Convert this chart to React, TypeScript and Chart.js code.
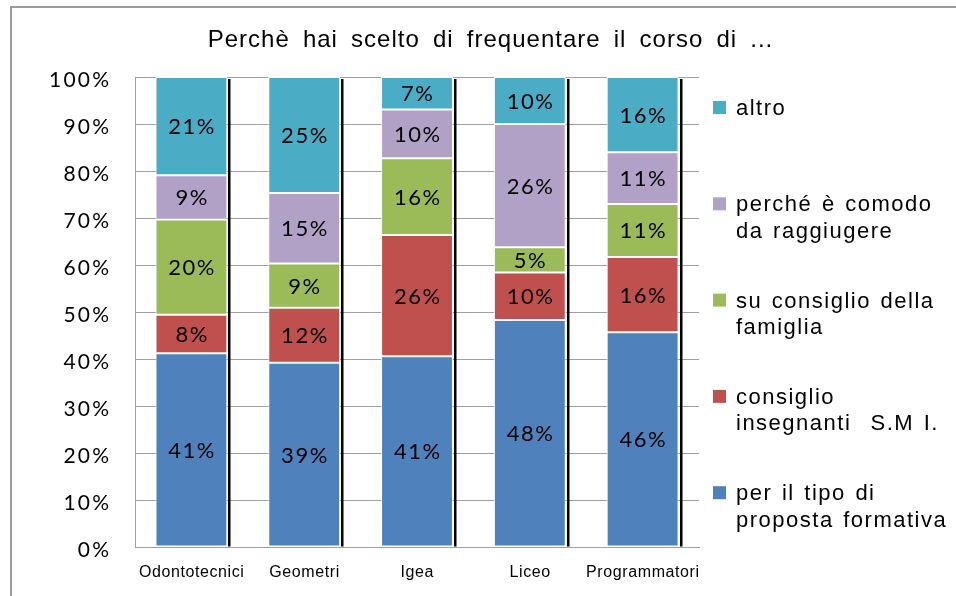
import React, { useEffect, useRef } from "react";
import { Chart, registerables } from "chart.js";

Chart.register(...registerables);

const titleText = "Perchè hai scelto di frequentare il corso di ...";
const categories = ["Odontotecnici", "Geometri", "Igea", "Liceo", "Programmatori"];
const seriesNames = [
  "per il tipo di\nproposta formativa",
  "consiglio\ninsegnanti  S.M I.",
  "su consiglio della\nfamiglia",
  "perché è comodo\nda raggiugere",
  "altro",
];
const tipoProposta = [41.2, 39.2, 40.6, 48.3, 45.7];
const consiglioInsegnanti = [8.2, 11.7, 25.8, 10.1, 16.0];
const consiglioFamiglia = [20.3, 9.4, 16.3, 5.4, 11.3];
const comodo = [9.4, 15.0, 10.4, 26.2, 11.0];
const altro = [20.9, 24.7, 6.9, 10.0, 16.0];
const seriesColors = ["#4F81BD", "#C0504D", "#9BBB59", "#B2A1C7", "#4BACC6"];

const seriesValues = [tipoProposta, consiglioInsegnanti, consiglioFamiglia, comodo, altro];

function drawSpaced(
  ctx: CanvasRenderingContext2D,
  text: string,
  x: number,
  y: number,
  font: string,
  spacing: number,
  align: "left" | "center" | "right",
  wordSpacing = 0
) {
  ctx.save();
  ctx.font = font;
  (ctx as any).letterSpacing = spacing + "px";
  (ctx as any).wordSpacing = wordSpacing + "px";
  ctx.textAlign = "left";
  ctx.textBaseline = "alphabetic";
  const w = ctx.measureText(text).width - spacing;
  let sx = x;
  if (align === "center") sx = x - w / 2;
  else if (align === "right") sx = x - w;
  ctx.fillText(text, sx, y);
  ctx.restore();
}

const decorPlugin = {
  id: "decor",
  beforeDraw(chart: any) {
    const ctx = chart.ctx as CanvasRenderingContext2D;
    ctx.save();
    ctx.fillStyle = "#ffffff";
    ctx.fillRect(0, 0, chart.width, chart.height);
    ctx.fillStyle = "#9c9c9c";
    ctx.fillRect(10, 6, chart.width - 10, 2);
    ctx.fillRect(10, 6, 2, chart.height - 6);
    ctx.restore();
  },
  afterDatasetsDraw(chart: any) {
    const ctx = chart.ctx as CanvasRenderingContext2D;
    const area = chart.chartArea;
    const n = chart.data.labels.length;
    const metas = chart.data.datasets.map((_: any, i: number) => chart.getDatasetMeta(i));

    // shadows on the right of each stacked column
    ctx.save();
    ctx.fillStyle = "#000000";
    for (let i = 0; i < n; i++) {
      let top = Infinity;
      let bottom = -Infinity;
      let right = 0;
      metas.forEach((m: any) => {
        const el = m.data[i];
        top = Math.min(top, el.y, el.base);
        bottom = Math.max(bottom, el.y, el.base);
        right = el.x + el.width / 2;
      });
      ctx.fillRect(Math.round(right) + 1, top + 2, 2.5, bottom - top - 2);
    }
    ctx.restore();

    // value labels
    ctx.save();
    ctx.fillStyle = "#000000";
    metas.forEach((m: any, di: number) => {
      m.data.forEach((el: any, i: number) => {
        const v = chart.data.datasets[di].data[i];
        const cy = (el.y + el.base) / 2;
        drawSpaced(ctx, Math.round(v) + "%", el.x, cy + 8, "22px Lato", 1.5, "center");
      });
    });
    ctx.restore();

    // y tick labels
    const ys = chart.scales.y;
    ctx.save();
    ctx.fillStyle = "#000000";
    ys.ticks.forEach((t: any) => {
      const py = ys.getPixelForValue(t.value);
      drawSpaced(ctx, t.value + "%", area.left - 26, py + 9.5, "21px Lato", 2.2, "right");
    });
    // x labels
    const xs = chart.scales.x;
    chart.data.labels.forEach((lab: string, i: number) => {
      const px = xs.getPixelForTick(i);
      drawSpaced(ctx, lab, px, area.bottom + 30, "16px 'Liberation Sans'", 0.6, "center");
    });
    ctx.restore();

    // legend (reverse order, top = last dataset)
    ctx.save();
    const ds = chart.data.datasets;
    const step = 96.3;
    for (let k = 0; k < ds.length; k++) {
      const d = ds[ds.length - 1 - k];
      const base = area.top + 38 + k * step;
      ctx.fillStyle = d.backgroundColor;
      ctx.fillRect(area.right + 14, base - 14, 13, 13);
      ctx.fillStyle = "#000000";
      const lines = String(d.label).split("\n");
      lines.forEach((ln, li) => {
        drawSpaced(ctx, ln, area.right + 37, base + li * 26.5, "22px 'Liberation Sans'", 1.5, "left", 2);
      });
    }
    ctx.restore();

    // title
    ctx.save();
    ctx.fillStyle = "#000000";
    drawSpaced(ctx, titleText, chart.width / 2 + 12, 47, "24px 'Liberation Sans'", 1, "center", 5.5);
    ctx.restore();
  },
};

export default function App() {
  const ref = useRef<HTMLCanvasElement | null>(null);
  useEffect(() => {
    if (!ref.current) return;
    const chart = new Chart(ref.current, {
      type: "bar",
      data: {
        labels: categories,
        datasets: seriesValues.map((vals, i) => ({
          label: seriesNames[i],
          data: vals,
          backgroundColor: seriesColors[i],
          borderColor: "#ffffff",
          borderWidth: 1,
          borderSkipped: false,
          categoryPercentage: 1,
          barPercentage: 0.637,
        })),
      },
      options: {
        responsive: false,
        animation: false,
        devicePixelRatio: 1,
        layout: { padding: { top: 77, right: 257, left: 0, bottom: 0 } },
        plugins: {
          legend: { display: false },
          title: { display: false },
          tooltip: { enabled: false },
        },
        scales: {
          x: {
            stacked: true,
            grid: { display: false, drawTicks: false },
            border: { display: true, color: "#a0a0a0", width: 1 },
            ticks: { display: false },
            afterFit: (s: any) => {
              s.height = 49;
            },
          },
          y: {
            stacked: true,
            min: 0,
            max: 100,
            ticks: { display: false, stepSize: 10 },
            grid: { color: "#a0a0a0", lineWidth: 1, drawTicks: false },
            border: { display: true, color: "#a0a0a0", width: 1 },
            afterFit: (s: any) => {
              s.width = 135;
            },
          },
        },
      },
      plugins: [decorPlugin],
    });
    return () => chart.destroy();
  }, []);
  return (
    <canvas
      ref={ref}
      width={956}
      height={596}
      style={{ position: "fixed", left: 0, top: 0, width: 956, height: 596 }}
    />
  );
}
